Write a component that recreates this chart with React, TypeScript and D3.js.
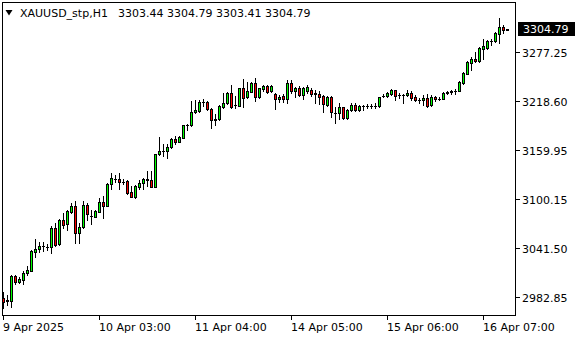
import React from 'react';
import * as d3 from 'd3';

const symbolName = 'XAUUSD_stp,H1';

const opens = [
  2981.6, 2978.2, 2978.4, 3008.1, 3001.2, 3003.2, 3011.3, 3014.4, 3037.3, 3040.1,
  3043.7, 3043.5, 3043.3, 3065.4, 3046.5, 3075.4, 3070.6, 3085.3, 3092.2, 3059.4,
  3066.6, 3093.4, 3080.0, 3079.3, 3085.3, 3096.6, 3092.5, 3118.6, 3124.9, 3124.6,
  3121.4, 3122.6, 3109.0, 3103.3, 3115.4, 3119.4, 3124.6, 3123.4, 3115.4, 3154.3,
  3158.1, 3158.3, 3163.1, 3172.7, 3169.4, 3174.2, 3189.5, 3189.5, 3204.8, 3206.7,
  3216.6, 3216.8, 3208.4, 3195.2, 3196.4, 3211.5, 3215.6, 3227.6, 3213.2, 3212.7,
  3233.6, 3223.5, 3229.5, 3239.6, 3222.8, 3232.4, 3236.4, 3230.7, 3226.7, 3220.4,
  3224.3, 3220.4, 3239.6, 3230.7, 3233.6, 3225.5, 3230.7, 3231.6, 3227.1, 3226.7,
  3224.3, 3213.5, 3223.5, 3203.6, 3203.6, 3210.8, 3197.6, 3207.5, 3213.5, 3207.5,
  3212.1, 3212.3, 3212.4, 3212.5, 3212.3, 3223.9, 3224.3, 3227.1, 3231.2, 3225.0,
  3225.7, 3225.2, 3227.9, 3223.1, 3219.0, 3219.2, 3221.9, 3213.2, 3223.1, 3220.6,
  3221.1, 3228.0, 3229.2, 3230.0, 3230.4, 3240.3, 3251.1, 3264.4, 3269.2, 3266.0,
  3281.2, 3282.0, 3289.9, 3290.1, 3299.2, 3307.3, 3303.44,
];
const highs = [
  2989.2, 2985.2, 3009.3, 3009.3, 3006.3, 3014.4, 3020.1, 3039.3, 3052.2, 3049.3,
  3048.5, 3046.5, 3068.1, 3071.4, 3076.5, 3084.1, 3087.4, 3095.4, 3098.5, 3071.4,
  3098.5, 3095.4, 3087.4, 3087.0, 3101.4, 3104.2, 3119.5, 3131.5, 3129.4, 3131.5,
  3125.2, 3123.0, 3116.2, 3117.4, 3123.4, 3126.2, 3134.2, 3134.2, 3154.6, 3175.4,
  3166.3, 3166.7, 3173.5, 3176.6, 3176.3, 3189.9, 3191.1, 3218.3, 3219.5, 3219.5,
  3220.4, 3218.3, 3209.6, 3202.7, 3213.5, 3227.6, 3229.5, 3237.6, 3224.7, 3234.0,
  3244.8, 3241.5, 3241.5, 3245.6, 3234.0, 3237.9, 3237.6, 3237.6, 3228.3, 3225.2,
  3226.7, 3243.6, 3243.6, 3235.5, 3236.4, 3235.5, 3237.6, 3233.6, 3231.6, 3230.7,
  3225.5, 3224.3, 3223.8, 3211.5, 3215.6, 3211.5, 3208.4, 3215.6, 3215.6, 3213.5,
  3213.5, 3214.4, 3214.7, 3215.6, 3223.5, 3226.7, 3228.8, 3232.4, 3231.6, 3227.9,
  3227.1, 3231.2, 3230.0, 3225.2, 3221.9, 3225.9, 3227.1, 3225.9, 3224.3, 3223.1,
  3229.1, 3230.0, 3231.9, 3233.1, 3242.0, 3253.2, 3266.0, 3271.2, 3277.2, 3283.2,
  3293.2, 3291.3, 3292.5, 3301.2, 3318.1, 3310.0, 3304.79,
];
const lows = [
  2969.6, 2973.2, 2971.2, 2998.4, 3000.2, 2998.4, 3009.3, 3014.1, 3031.3, 3037.3,
  3038.5, 3039.3, 3035.3, 3044.7, 3045.3, 3065.4, 3063.3, 3084.1, 3047.7, 3047.4,
  3065.4, 3075.4, 3070.2, 3078.6, 3085.0, 3077.4, 3092.0, 3112.6, 3121.4, 3112.2,
  3118.6, 3106.6, 3103.0, 3102.1, 3112.6, 3112.6, 3116.6, 3115.0, 3115.0, 3153.4,
  3152.6, 3150.2, 3162.2, 3166.3, 3168.7, 3173.8, 3183.5, 3188.8, 3203.6, 3205.5,
  3212.7, 3207.5, 3186.3, 3189.5, 3195.5, 3210.3, 3214.4, 3210.3, 3210.3, 3212.3,
  3211.5, 3221.6, 3228.8, 3218.3, 3222.5, 3230.7, 3227.6, 3229.5, 3208.4, 3217.5,
  3217.5, 3215.6, 3227.6, 3223.5, 3224.3, 3220.4, 3227.6, 3224.3, 3216.3, 3214.7,
  3205.5, 3212.3, 3199.5, 3192.3, 3196.4, 3196.4, 3196.4, 3206.7, 3206.7, 3206.7,
  3207.5, 3210.3, 3210.3, 3209.6, 3211.5, 3222.8, 3223.5, 3225.9, 3219.2, 3221.9,
  3216.3, 3224.3, 3219.2, 3218.3, 3216.3, 3213.9, 3211.1, 3212.3, 3218.3, 3219.2,
  3220.4, 3227.1, 3227.1, 3226.4, 3230.0, 3239.1, 3250.8, 3255.2, 3265.2, 3265.2,
  3268.4, 3281.2, 3285.3, 3289.2, 3288.4, 3300.4, 3303.41,
];
const closes = [
  2977.2, 2978.8, 3008.1, 3001.2, 3004.8, 3011.3, 3015.3, 3038.5, 3040.5, 3043.7,
  3043.9, 3043.2, 3066.1, 3045.3, 3075.4, 3069.4, 3086.1, 3092.2, 3059.4, 3066.6,
  3093.4, 3082.2, 3079.6, 3086.1, 3096.6, 3092.2, 3118.6, 3125.5, 3124.3, 3121.4,
  3121.1, 3107.8, 3103.3, 3116.2, 3120.2, 3125.0, 3123.8, 3115.4, 3154.3, 3158.3,
  3158.5, 3163.4, 3172.7, 3169.4, 3175.4, 3189.5, 3189.9, 3204.8, 3207.5, 3216.8,
  3217.0, 3208.4, 3195.5, 3196.7, 3212.3, 3215.6, 3227.6, 3211.5, 3213.8, 3233.6,
  3222.3, 3230.4, 3239.6, 3222.8, 3233.6, 3236.4, 3229.5, 3236.7, 3220.4, 3223.5,
  3220.4, 3239.6, 3230.7, 3233.6, 3225.5, 3233.6, 3234.8, 3226.7, 3227.6, 3223.5,
  3214.7, 3223.5, 3205.5, 3203.9, 3210.8, 3197.6, 3207.5, 3213.5, 3207.5, 3212.3,
  3212.5, 3212.6, 3212.8, 3212.3, 3222.8, 3224.3, 3227.6, 3231.2, 3224.3, 3225.2,
  3225.9, 3227.9, 3221.9, 3219.9, 3219.2, 3221.9, 3212.3, 3223.1, 3220.4, 3221.1,
  3227.9, 3229.1, 3230.0, 3230.3, 3241.2, 3252.0, 3265.2, 3269.2, 3266.0, 3282.0,
  3284.4, 3290.1, 3290.3, 3300.4, 3307.3, 3303.3, 3304.79,
];

const priceTicks = [3277.25, 3218.6, 3159.95, 3100.15, 3041.5, 2982.85];
const timeLabels = ['9 Apr 2025', '10 Apr 03:00', '11 Apr 04:00', '14 Apr 05:00', '15 Apr 06:00', '16 Apr 07:00'];
const timeLabelBars = [0, 24, 48, 72, 96, 120];
const priceRange = [2960.0, 3337.3];

const FONT = '"DejaVu Sans", Verdana, sans-serif';
const BULL = '#00ff00';
const BEAR = '#ff0000';

export default function App() {
  const n = opens.length;
  const left = 2, top = 2, right = 515, bottom = 315;
  const x = d3.scaleLinear().domain([0, n - 1]).range([3, 3 + 4 * (n - 1)]);
  const y = d3.scaleLinear().domain(priceRange).range([bottom + 1, top]);

  const candles = d3.range(n).map((i) => {
    const o = opens[i], h = highs[i], l = lows[i], c = closes[i];
    const cx = Math.round(x(i));
    const yh = Math.round(y(h));
    const yl = Math.round(y(l));
    const bt = Math.round(y(Math.max(o, c)));
    const bb = Math.round(y(Math.min(o, c)));
    const fill = c >= o ? BULL : BEAR;
    return (
      <g key={i}>
        <line x1={cx + 0.5} x2={cx + 0.5} y1={yh} y2={yl + 1} stroke="#000" strokeWidth={1} />
        {bb - bt < 1 ? (
          <line x1={cx - 1} x2={cx + 2} y1={bt + 0.5} y2={bt + 0.5} stroke="#000" strokeWidth={1} />
        ) : (
          <rect x={cx - 0.5} y={bt + 0.5} width={2} height={bb - bt} fill={fill} stroke="#000" strokeWidth={1} />
        )}
      </g>
    );
  });

  const last = n - 1;
  const lastY = Math.round(y(closes[last]));
  const header = [opens[last], highs[last], lows[last], closes[last]].map((v) => v.toFixed(2)).join(' ');

  return (
    <svg
      width={580}
      height={340}
      style={{ position: 'absolute', left: 0, top: 0, display: 'block', background: '#fff' }}
      shapeRendering="crispEdges"
      fontFamily={FONT}
      fontSize={11}
    >
      <rect x={0} y={0} width={580} height={340} fill="#fff" />
      {candles}
      <rect x={left + 0.5} y={top + 0.5} width={right - left} height={bottom - top} fill="none" stroke="#000" strokeWidth={1} />
      {priceTicks.map((v) => {
        const ty = Math.round(y(v)) + 0.5;
        return (
          <g key={v}>
            <line x1={right + 1} x2={right + 5} y1={ty} y2={ty} stroke="#000" />
            <text x={522} y={ty + 4} fill="#000">{v.toFixed(2)}</text>
          </g>
        );
      })}
      {timeLabels.map((t, k) => {
        const tx = Math.round(x(timeLabelBars[k])) + 0.5;
        return (
          <g key={t}>
            <line x1={tx} x2={tx} y1={bottom + 1} y2={bottom + 5} stroke="#000" />
            <text x={tx - 0.5} y={331} fill="#000">{t}</text>
          </g>
        );
      })}
      <rect x={518} y={lastY - 7} width={57} height={14} fill="#000" />
      <text x={523} y={lastY + 4} fill="#fff">{closes[last].toFixed(2)}</text>
      <path d="M5.5,10 L12.5,10 L9,15.5 Z" fill="#000" shapeRendering="auto" />
      <text x={20} y={17} fill="#000">{symbolName}</text>
      <text x={118} y={17} fill="#000">{header}</text>
    </svg>
  );
}
